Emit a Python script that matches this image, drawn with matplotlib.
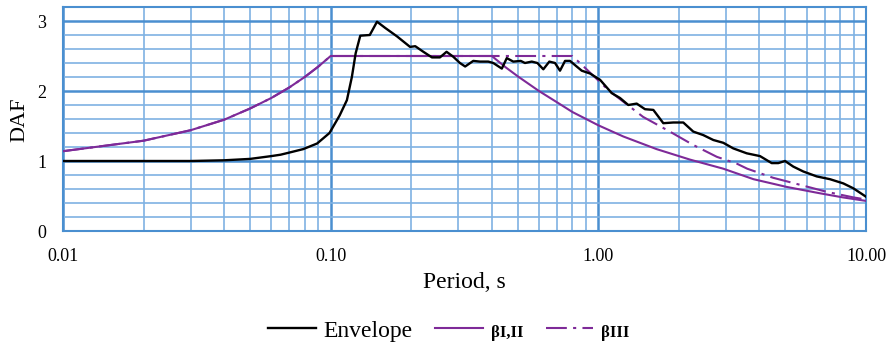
import matplotlib
matplotlib.use("Agg")
import matplotlib.pyplot as plt
from matplotlib.ticker import FixedLocator, FixedFormatter, MultipleLocator

# ---------------- data ----------------
period_env = [0.01, 0.02, 0.03, 0.04, 0.05, 0.06, 0.065, 0.07, 0.079, 0.089, 0.099,
              0.108, 0.115, 0.12, 0.124, 0.129, 0.14, 0.149, 0.16, 0.177, 0.198,
              0.207, 0.222, 0.239, 0.256, 0.271, 0.287, 0.304, 0.318, 0.341, 0.361,
              0.388, 0.405, 0.436, 0.455, 0.481, 0.513, 0.532, 0.564, 0.592, 0.623,
              0.656, 0.689, 0.719, 0.751, 0.784, 0.830, 0.867, 0.931, 1.015, 1.122,
              1.205, 1.294, 1.391, 1.494, 1.605, 1.749, 1.905, 2.077, 2.263, 2.467,
              2.689, 2.93, 3.193, 3.584, 4.018, 4.443, 4.702, 4.983, 5.35, 5.832,
              6.543, 7.337, 8.226, 8.966, 10.0]
envelope = [1.0, 1.0, 1.0, 1.01, 1.03, 1.07, 1.09, 1.12, 1.17, 1.25, 1.40,
            1.65, 1.87, 2.20, 2.54, 2.79, 2.80, 2.99, 2.90, 2.78, 2.63,
            2.64, 2.56, 2.48, 2.48, 2.56, 2.49, 2.40, 2.35, 2.43, 2.42,
            2.42, 2.40, 2.32, 2.47, 2.42, 2.43, 2.40, 2.42, 2.40, 2.31,
            2.42, 2.40, 2.29, 2.43, 2.43, 2.35, 2.29, 2.25, 2.16, 1.97,
            1.90, 1.80, 1.82, 1.74, 1.73, 1.54, 1.55, 1.55, 1.42, 1.37,
            1.30, 1.26, 1.18, 1.11, 1.07, 0.97, 0.97, 1.00, 0.92, 0.85,
            0.78, 0.74, 0.68, 0.61, 0.49]

period_b12 = [0.01, 0.02, 0.03, 0.04, 0.05, 0.06, 0.07, 0.08, 0.09, 0.10,
              0.40, 0.45, 0.50, 0.60, 0.70, 0.80, 0.90, 1.0, 1.24, 1.65,
              2.2, 2.93, 3.8, 5.05, 6.7, 8.2, 10.0]
beta_12 = [1.14, 1.29, 1.44, 1.59, 1.75, 1.90, 2.05, 2.20, 2.35, 2.50,
           2.50, 2.34, 2.21, 2.00, 1.84, 1.70, 1.60, 1.51, 1.35, 1.17,
           1.02, 0.89, 0.74, 0.63, 0.54, 0.48, 0.43]

period_b3 = [0.01, 0.02, 0.03, 0.04, 0.05, 0.06, 0.07, 0.08, 0.09, 0.10,
             0.80, 0.87, 1.0, 1.1, 1.47, 1.85, 2.26, 2.77, 3.3, 3.6,
             4.5, 5.67, 7.13, 8.97, 10.0]
beta_3 = [1.14, 1.29, 1.44, 1.59, 1.75, 1.90, 2.05, 2.20, 2.35, 2.50,
          2.50, 2.37, 2.15, 2.00, 1.63, 1.42, 1.23, 1.06, 0.96, 0.89,
          0.76, 0.66, 0.56, 0.48, 0.45]

x_ticks = [0.01, 0.1, 1.0, 10.0]
x_tick_labels = ["0.01", "0.10", "1.00", "10.00"]
y_ticks = [0, 1, 2, 3]

labels = ["Envelope", "βI,II", "βIII"]

# ---------------- styling ----------------
serif = "Liberation Serif"
purple = "#7E2A98"
grid_major = "#4A8FD0"
grid_minor = "#7FB2E3"

fig = plt.figure(figsize=(8.9, 3.47), dpi=100)
W, H = 890, 347
ax = fig.add_axes([63 / W, 116 / H, 803 / W, 224 / H])

ax.set_xscale("log")
ax.set_xlim(0.01, 10.0)
ax.set_ylim(0, 3.2)

ax.xaxis.set_major_locator(FixedLocator(x_ticks))
ax.xaxis.set_major_formatter(FixedFormatter(x_tick_labels))
minor_x = [m * d for d in (0.01, 0.1, 1.0) for m in range(2, 10)]
ax.xaxis.set_minor_locator(FixedLocator(minor_x))
ax.xaxis.set_minor_formatter(FixedFormatter([""] * len(minor_x)))
ax.yaxis.set_major_locator(FixedLocator(y_ticks))
ax.yaxis.set_minor_locator(MultipleLocator(0.2))

ax.grid(which="major", color=grid_major, linewidth=1.8)
ax.grid(which="minor", color=grid_minor, linewidth=1.2)
ax.set_axisbelow(True)
for s in ax.spines.values():
    s.set_color(grid_major)
    s.set_linewidth(1.5)

ax.tick_params(which="both", length=0)
ax.tick_params(axis="x", pad=12, labelsize=13)
ax.tick_params(axis="y", pad=12, labelsize=13)
for lab in ax.get_xticklabels() + ax.get_yticklabels():
    lab.set_fontfamily(serif)

l1, = ax.plot(period_env, envelope, color="black", lw=1.7, label=labels[0], zorder=4)
l2, = ax.plot(period_b12, beta_12, color=purple, lw=1.5, label=labels[1], zorder=3)
l3, = ax.plot(period_b3, beta_3, color=purple, lw=1.5, label=labels[2], zorder=3,
              dashes=(10, 3, 1.5, 3))

fig.text(464 / W, 1 - 283 / H, "Period, s", family=serif, fontsize=17,
         ha="center", va="center")
fig.text(20 / W, 1 - 120 / H, "DAF", family=serif, fontsize=16, rotation=90,
         ha="center", va="center")

leg = fig.legend(handles=[l1, l2, l3], labels=labels, loc="center",
                 bbox_to_anchor=(449 / W, 1 - 331 / H), ncol=3, frameon=False,
                 prop={"family": serif, "size": 17}, handlelength=2.0,
                 handletextpad=0.35, columnspacing=0.95, borderaxespad=0,
                 borderpad=0)
texts = leg.get_texts()
for t in texts[1:]:
    t.set_fontsize(12)
    t.set_fontweight("bold")

fig.savefig("out.png", dpi=100)
